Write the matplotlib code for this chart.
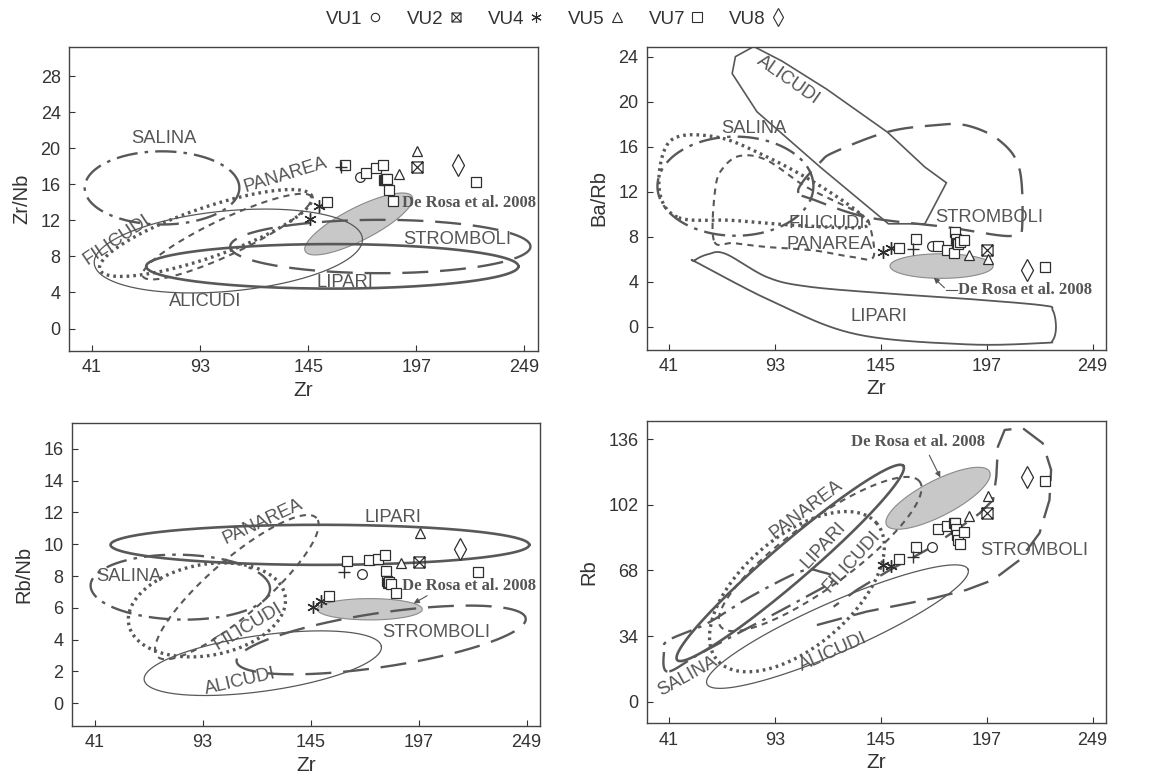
import numpy as np
import matplotlib
matplotlib.use("Agg")
import matplotlib.pyplot as plt
from matplotlib.path import Path
from matplotlib.lines import Line2D
from matplotlib.patches import Polygon

plt.rcParams['font.family'] = ['Liberation Sans', 'DejaVu Sans']

# ---------------- sample data (Zr and ratios) ----------------
vu1_zr = [170.0]
vu1_zrnb = [16.8]
vu1_barb = [7.15]
vu1_rbnb = [8.1]
vu1_rb = [80.0]

vu2_zr = [197.3]
vu2_zrnb = [17.9]
vu2_barb = [6.86]
vu2_rbnb = [8.87]
vu2_rb = [97.7]

vu4_zr = [146.0, 150.0]
vu4_zrnb = [12.1, 13.6]
vu4_barb = [6.65, 7.05]
vu4_rbnb = [6.04, 6.45]
vu4_rb = [70.9, 70.3]

vu5_zr = [188.5, 197.5]
vu5_zrnb = [17.1, 19.7]
vu5_barb = [6.4, 6.06]
vu5_rbnb = [8.8, 10.7]
vu5_rb = [96.3, 106.6]

vu7_zr = [154.0, 162.5, 173.0, 177.5, 180.8, 181.5, 182.0, 182.5, 183.0, 183.8, 186.0, 225.5]
vu7_zrnb = [14.0, 18.1, 17.3, 17.8, 18.1, 16.5, 16.5, 16.6, 16.6, 15.4, 14.2, 16.2]
vu7_barb = [7.0, 7.8, 7.15, 6.8, 6.55, 8.4, 7.8, 7.45, 7.4, 7.55, 7.7, 5.3]
vu7_rbnb = [6.75, 8.95, 9.0, 9.07, 9.33, 8.32, 7.7, 7.55, 7.65, 7.5, 6.92, 8.28]
vu7_rb = [73.8, 80.4, 89.4, 91.1, 92.5, 92.5, 89.4, 86.4, 83.8, 81.8, 88.1, 114.1]

vu8_zr = [217.0]
vu8_zrnb = [18.1]
vu8_barb = [5.05]
vu8_rbnb = [9.7]
vu8_rb = [116.4]

other_zr = [161.0]
other_zrnb = [17.9]
other_barb = [6.95]
other_rbnb = [8.28]
other_rb = [74.8]

legend_labels = ["VU1", "VU2", "VU4", "VU5", "VU7", "VU8"]
x_ticks = [41, 93, 145, 197, 249]

# ---------------- field outlines ----------------
# ellipses: centre, conjugate semi-axis vectors (data units)
tl_ellipses = {
    "SALINA":    [(74.7, 15.6), (37.2, 0.0), (0.0, 4.06)],
    "ALICUDI":   [(106.6, 8.6), (64.0, 0.7), (8.0, 4.6)],
    "LIPARI":    [(156.6, 6.9), (89.5, 0.0), (0.0, 2.47)],
    "STROMBOLI": [(179.7, 9.1), (72.2, 0.0), (0.0, 2.96)],
    "PANAREA":   [(106.0, 10.2), (40.5, 4.4), (-3.7, 1.8)],
    "FILICUDI":  [(95.8, 10.6), (51.0, 4.06), (-3.9, 2.6)],
    "DEROSA":    [(169.3, 11.6), (25.7, 3.03), (-3.6, 1.62)],
}
bl_ellipses = {
    "LIPARI":    [(149.5, 9.96), (100.8, 0.0), (0.0, 1.26)],
    "SALINA":    [(82.3, 7.3), (43.2, -0.1), (0.0, 2.04)],
    "FILICUDI":  [(95.1, 5.87), (37.0, 1.2), (-8.0, 2.7)],
    "PANAREA":   [(109.5, 7.3), (38.4, 4.34), (-8.9, 1.32)],
    "ALICUDI":   [(122.0, 2.52), (57.1, 1.05), (-1.87, 1.74)],
    "STROMBOLI": [(179.0, 3.98), (69.6, 1.36), (-1.92, 1.68)],
    "DEROSA":    [(173.5, 5.91), (25.3, 0.0), (0.0, 0.67)],
}
tr_ellipses = {
    "SALINA":    [(73.6, 12.5), (38.3, 0.0), (0.0, 4.4)],
    "DEROSA":    [(174.8, 5.41), (25.3, 0.0), (0.0, 1.09)],
}
br_ellipses = {
    "LIPARI":    [(100.5, 71.9), (55.5, 50.3), (-6.05, 7.5)],
    "PANAREA":   [(115.2, 76.5), (48.9, 37.5), (-9.5, 13.8)],
    "FILICUDI":  [(103.8, 57.0), (39.2, 35.4), (-17.5, 21.7)],
    "ALICUDI":   [(123.7, 38.9), (64.1, 29.7), (-4.9, 11.9)],
    "DEROSA":    [(173.1, 105.4), (25.3, 13.8), (-3.96, 8.2)],
}
# polygons (Zr, value)
tr_alicudi_zr = [73.6, 82.6, 96.5, 118.5, 148.2, 166.6, 177.2, 166.6, 148.7, 115.2, 84.2, 72.0]
tr_alicudi_v = [24.0, 24.9, 23.6, 21.1, 17.3, 14.2, 12.8, 9.16, 9.16, 14.2, 19.1, 22.5]
tr_strom_zr = [104.6, 107.1, 115.2, 121.8, 147.9, 170.7, 187.0, 203.3, 213.1, 214.4, 211.5, 203.3, 177.2, 138.1, 112.0]
tr_strom_v = [11.9, 13.0, 14.6, 15.5, 17.3, 17.9, 17.9, 16.55, 14.0, 8.87, 8.2, 8.13, 8.87, 9.75, 11.3]
tr_lipari_zr = [53.7, 60.0, 68.7, 89.1, 108.7, 146.2, 187.0, 224.5, 229.4, 231.0, 229.4, 224.5, 187.0, 133.2, 94.0, 56.0]
tr_lipari_v = [5.91, 6.45, 6.5, 4.43, 3.6, 3.0, 2.5, 1.92, 1.48, 0.0, -1.18, -1.42, -1.54, -0.65, 2.07, 5.6]
tr_filicudi_zr = [45.1, 36.1, 41.8, 64.7, 89.1, 113.6, 134.8, 136.4, 105.4, 72.8]
tr_filicudi_v = [9.75, 12.4, 16.55, 16.85, 15.1, 12.7, 10.05, 8.87, 9.0, 9.46]
tr_panarea_zr = [63.0, 63.8, 67.9, 76.1, 89.1, 108.7, 134.8, 139.7, 141.3, 131.5, 112.0, 89.1, 72.8]
tr_panarea_v = [7.69, 12.4, 14.2, 15.2, 14.8, 12.4, 10.05, 8.87, 6.2, 6.2, 6.8, 7.1, 7.45]
br_salina_zr = [40.2, 38.6, 41.0, 59.8, 81.0, 105.4, 115.2, 121.8, 105.4, 81.0, 56.5]
br_salina_v = [15.6, 26.8, 32.0, 40.6, 54.4, 67.4, 67.4, 63.1, 52.7, 38.9, 25.1]
br_strom_zr = [113.6, 138.1, 154.4, 170.7, 187.0, 200.1, 213.1, 222.9, 227.8, 228.6, 224.5, 214.7,
               205.8, 202.5, 201.7, 200.1, 193.5, 182.1, 167.4, 149.5, 133.2, 121.8]
br_strom_v = [39.7, 46.7, 50.1, 53.6, 57.9, 63.1, 73.4, 87.3, 104.5, 120.1, 133.9, 141.7,
              140.8, 132.2, 116.6, 104.5, 97.6, 89.0, 78.6, 68.3, 57.9, 49.2]

# ---------------- styles ----------------
LC = '#585858'
styles = {
    "SALINA":    dict(ls=(0, (9, 3, 1.5, 3)), lw=1.7),
    "ALICUDI":   dict(ls='-', lw=0.9),
    "LIPARI":    dict(ls='-', lw=1.9),
    "STROMBOLI": dict(ls=(0, (11, 5)), lw=1.7),
    "PANAREA":   dict(ls=(0, (3, 2.5)), lw=1.5),
    "FILICUDI":  dict(ls=(0, (0.8, 1.2)), lw=2.4),
}


def ellipse_xy(c, u, v, n=300):
    t = np.linspace(0, 2 * np.pi, n)
    return (c[0] + u[0] * np.cos(t) + v[0] * np.sin(t),
            c[1] + u[1] * np.cos(t) + v[1] * np.sin(t))


def smooth_closed(xs, ys, n=24):
    P = np.column_stack([xs, ys]).astype(float)
    m = len(P)
    out = []
    t = np.linspace(0, 1, n, endpoint=False)[:, None]
    for i in range(m):
        p0, p1, p2, p3 = P[i - 1], P[i], P[(i + 1) % m], P[(i + 2) % m]
        out.append(0.5 * (2 * p1 + (-p0 + p2) * t + (2 * p0 - 5 * p1 + 4 * p2 - p3) * t ** 2
                          + (-p0 + 3 * p1 - 3 * p2 + p3) * t ** 3))
    out = np.vstack(out + [out[0][:1]])
    return out[:, 0], out[:, 1]


def draw_ellipses(ax, ells):
    for name, (c, u, v) in ells.items():
        x, y = ellipse_xy(c, u, v)
        if name == "DEROSA":
            ax.fill(x, y, facecolor='#c8c8c8', edgecolor='#8a8a8a', lw=0.8, zorder=1)
        else:
            ax.plot(x, y, color=LC, zorder=2, **styles[name])


vu2_marker = Path([(-1, -1), (1, -1), (1, 1), (-1, 1), (-1, -1), (-1, -1), (1, 1), (-1, 1), (1, -1)],
                  [Path.MOVETO, Path.LINETO, Path.LINETO, Path.LINETO, Path.CLOSEPOLY,
                   Path.MOVETO, Path.LINETO, Path.MOVETO, Path.LINETO])
MC = '#2e2e2e'
mk = {
    "VU1": dict(marker='o', ms=7, mfc='white', mec=MC, mew=0.9),
    "VU2": dict(marker=vu2_marker, ms=8, mfc='none', mec=MC, mew=0.9),
    "VU4": dict(marker=(6, 2, 0), ms=9, mfc='none', mec=MC, mew=1.0),
    "VU5": dict(marker='^', ms=7.5, mfc='white', mec=MC, mew=0.9),
    "VU7": dict(marker='s', ms=7.5, mfc='white', mec=MC, mew=0.9),
    "VU8": dict(marker='d', ms=11, mfc='white', mec=MC, mew=0.9),
    "other": dict(marker='+', ms=8, mfc='none', mec=MC, mew=1.0),
}


def draw_points(ax, vals):
    for key, (xs, ys) in vals.items():
        ax.plot(xs, ys, ls='none', zorder=5, **mk[key])


def field_label(ax, x, y, s, rot=0, size=13.2):
    ax.text(x, y, s, ha='center', va='center', rotation=rot, rotation_mode='anchor',
            color='#555555', fontsize=size, zorder=6)


def derosa_label(ax, x, y, ha='center'):
    ax.text(x, y, 'De Rosa et al. 2008', ha=ha, va='center', family='Liberation Serif',
            fontweight='bold', color='#555555', fontsize=12, zorder=6)


def style_axes(ax, ylim, yticks, ylabel):
    ax.set_xlim(30, 255.5)
    ax.set_ylim(*ylim)
    ax.set_xticks(x_ticks)
    ax.set_yticks(yticks)
    ax.tick_params(direction='in', length=4, width=0.8, labelsize=13, colors='#333333', pad=6)
    for s in ax.spines.values():
        s.set_color('#444444')
        s.set_linewidth(1.0)
    ax.set_xlabel('Zr', fontsize=15, color='#333333', labelpad=3)
    ax.set_ylabel(ylabel, fontsize=14.5, color='#333333', labelpad=7)


fig = plt.figure(figsize=(11.51, 7.75), dpi=100)
ax1 = fig.add_axes([0.060, 0.547, 0.4074, 0.392])
ax2 = fig.add_axes([0.5618, 0.549, 0.399, 0.391])
ax3 = fig.add_axes([0.0623, 0.0632, 0.4069, 0.3906])
ax4 = fig.add_axes([0.5618, 0.0667, 0.399, 0.3905])

# ---- Zr/Nb ----
draw_ellipses(ax1, tl_ellipses)
draw_points(ax1, {"VU1": (vu1_zr, vu1_zrnb), "VU2": (vu2_zr, vu2_zrnb), "VU4": (vu4_zr, vu4_zrnb),
                  "VU5": (vu5_zr, vu5_zrnb), "VU7": (vu7_zr, vu7_zrnb), "VU8": (vu8_zr, vu8_zrnb),
                  "other": (other_zr, other_zrnb)})
field_label(ax1, 75.5, 21.1, 'SALINA')
field_label(ax1, 134, 17.0, 'PANAREA', rot=17)
field_label(ax1, 53, 9.8, 'FILICUDI', rot=34)
field_label(ax1, 95.5, 3.0, 'ALICUDI')
field_label(ax1, 162.9, 5.1, 'LIPARI')
field_label(ax1, 216.6, 9.9, 'STROMBOLI')
derosa_label(ax1, 190.1, 13.9, ha='left')
style_axes(ax1, (-2.5, 31.2), np.arange(0, 29, 4), 'Zr/Nb')

# ---- Ba/Rb ----
draw_ellipses(ax2, tr_ellipses)
ax2.add_patch(Polygon(np.column_stack([tr_alicudi_zr, tr_alicudi_v]), closed=True, fill=False,
                      edgecolor=LC, lw=1.2, zorder=2))
for (xs, ys, nm) in [(tr_strom_zr, tr_strom_v, "STROMBOLI"), (tr_filicudi_zr, tr_filicudi_v, "FILICUDI"),
                     (tr_panarea_zr, tr_panarea_v, "PANAREA")]:
    sx, sy = smooth_closed(xs, ys)
    ax2.plot(sx, sy, color=LC, zorder=2, **styles[nm])
sx, sy = smooth_closed(tr_lipari_zr, tr_lipari_v)
ax2.plot(sx, sy, color=LC, lw=1.3, zorder=2)
draw_points(ax2, {"VU1": (vu1_zr, vu1_barb), "VU2": (vu2_zr, vu2_barb), "VU4": (vu4_zr, vu4_barb),
                  "VU5": (vu5_zr, vu5_barb), "VU7": (vu7_zr, vu7_barb), "VU8": (vu8_zr, vu8_barb),
                  "other": (other_zr, other_barb)})
field_label(ax2, 99.7, 21.9, 'ALICUDI', rot=-35)
field_label(ax2, 82.6, 17.6, 'SALINA')
field_label(ax2, 118.5, 9.2, 'FILICUDI')
field_label(ax2, 120.1, 7.33, 'PANAREA')
field_label(ax2, 198.4, 9.75, 'STROMBOLI')
field_label(ax2, 144.3, 0.95, 'LIPARI')
derosa_label(ax2, 182.9, 3.31, ha='left')
ax2.plot([182.3, 177.2], [3.31, 3.31], color='#555555', lw=0.8, zorder=6)
ax2.annotate('', xy=(170.0, 4.55), xytext=(177.2, 3.31),
             arrowprops=dict(arrowstyle='-|>', color='#555555', lw=0.8, mutation_scale=8), zorder=6)
style_axes(ax2, (-2.0, 24.9), np.arange(0, 25, 4), 'Ba/Rb')

# ---- Rb/Nb ----
draw_ellipses(ax3, bl_ellipses)
draw_points(ax3, {"VU1": (vu1_zr, vu1_rbnb), "VU2": (vu2_zr, vu2_rbnb), "VU4": (vu4_zr, vu4_rbnb),
                  "VU5": (vu5_zr, vu5_rbnb), "VU7": (vu7_zr, vu7_rbnb), "VU8": (vu8_zr, vu8_rbnb),
                  "other": (other_zr, other_rbnb)})
field_label(ax3, 184.7, 11.7, 'LIPARI')
field_label(ax3, 122, 11.4, 'PANAREA', rot=25)
field_label(ax3, 57.5, 8.0, 'SALINA')
field_label(ax3, 115, 4.8, 'FILICUDI', rot=31)
field_label(ax3, 205.5, 4.45, 'STROMBOLI')
field_label(ax3, 111, 1.36, 'ALICUDI', rot=13)
derosa_label(ax3, 189.2, 7.38, ha='left')
ax3.annotate('', xy=(193.5, 6.19), xytext=(202.3, 6.85),
             arrowprops=dict(arrowstyle='-|>', color='#555555', lw=0.8, mutation_scale=8), zorder=6)
style_axes(ax3, (-1.43, 17.6), np.arange(0, 17, 2), 'Rb/Nb')

# ---- Rb ----
draw_ellipses(ax4, br_ellipses)
sx, sy = smooth_closed(br_salina_zr, br_salina_v)
ax4.plot(sx, sy, color=LC, zorder=2, **styles["SALINA"])
ax4.plot(br_strom_zr, br_strom_v, color=LC, zorder=2, **styles["STROMBOLI"])
draw_points(ax4, {"VU1": (vu1_zr, vu1_rb), "VU2": (vu2_zr, vu2_rb), "VU4": (vu4_zr, vu4_rb),
                  "VU5": (vu5_zr, vu5_rb), "VU7": (vu7_zr, vu7_rb), "VU8": (vu8_zr, vu8_rb),
                  "other": (other_zr, other_rb)})
field_label(ax4, 108.2, 99.4, 'PANAREA', rot=37)
field_label(ax4, 116.9, 81.2, 'LIPARI', rot=47)
field_label(ax4, 130.7, 72.6, 'FILICUDI', rot=48)
field_label(ax4, 50, 13, 'SALINA', rot=29)
field_label(ax4, 121.8, 25.9, 'ALICUDI', rot=24)
field_label(ax4, 220.4, 78.3, 'STROMBOLI')
derosa_label(ax4, 163.4, 134.3)
ax4.annotate('', xy=(174.8, 114.9), xytext=(168.2, 129.0),
             arrowprops=dict(arrowstyle='-|>', color='#555555', lw=0.8, mutation_scale=8), zorder=6)
style_axes(ax4, (-11.2, 145.6), [0, 34, 68, 102, 136], 'Rb')

# ---- legend ----
leg_mk = {"VU1": dict(marker='o', ms=6), "VU2": dict(marker=vu2_marker, ms=6.5),
          "VU4": dict(marker=(6, 2, 0), ms=7.5), "VU5": dict(marker='^', ms=6.5),
          "VU7": dict(marker='s', ms=6.5), "VU8": dict(marker='d', ms=9)}
handles = [Line2D([], [], ls='none', mfc='none', mec=MC, mew=0.8, **leg_mk[k]) for k in legend_labels]
fig.legend(handles, legend_labels, loc='center', bbox_to_anchor=(0.483, 0.975), ncol=6,
           frameon=False, markerfirst=False, fontsize=13.5, handletextpad=0.25,
           columnspacing=1.3, handlelength=0.8, labelcolor='#333333')

fig.savefig('out.png', dpi=100)
